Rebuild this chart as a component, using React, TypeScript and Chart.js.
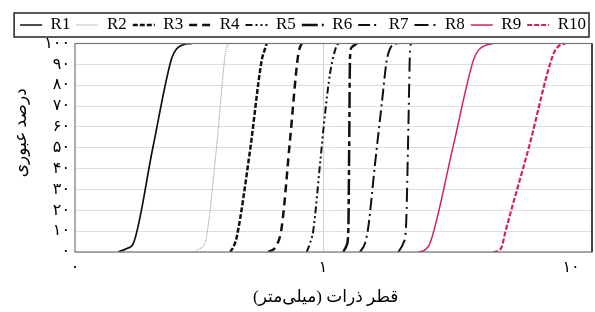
import { useEffect, useRef } from 'react';
import { Chart, registerables } from 'chart.js';

Chart.register(...registerables);

// ---- data (diameter in mm, percent passing) ----
const seriesNames = ['R1', 'R2', 'R3', 'R4', 'R5', 'R6', 'R7', 'R8', 'R9', 'R10'];

const r1Diameter = [0.149, 0.162, 0.172, 0.206, 0.245, 0.257, 0.273, 0.296];
const r1Passing = [0, 1.7, 4.2, 50, 92.7, 97.5, 99.4, 100];

const r2Diameter = [0.305, 0.319, 0.334, 0.372, 0.403, 0.409, 0.415];
const r2Passing = [0, 1.7, 4.2, 50, 94.3, 98, 100];

const r3Diameter = [0.422, 0.435, 0.449, 0.508, 0.566, 0.584, 0.593];
const r3Passing = [0, 2.4, 7.2, 48.8, 91.9, 97.5, 100];

const r4Diameter = [0.602, 0.651, 0.682, 0.736, 0.795, 0.813, 0.821];
const r4Passing = [0, 3.3, 12.1, 53.6, 95, 99, 100];

const r5Diameter = [0.86, 0.886, 0.914, 0.973, 1.019, 1.067, 1.118, 1.15];
const r5Passing = [0, 4.2, 10.5, 42.4, 66.3, 85.5, 96.7, 100];

const r6Diameter = [1.207, 1.246, 1.265, 1.275, 1.285, 1.305, 1.371];
const r6Passing = [0, 3.3, 10.5, 50, 93.4, 98.2, 100];

const r7Diameter = [1.41, 1.477, 1.523, 1.621, 1.725, 1.807, 1.863, 1.982];
const r7Passing = [0, 4.2, 12.1, 42.3, 71, 91.9, 97.5, 100];

const r8Diameter = [2.012, 2.107, 2.161, 2.208, 2.243, 2.264];
const r8Passing = [0, 4.2, 12.1, 58.4, 96.7, 100];

const r9Diameter = [2.423, 2.578, 2.701, 3.344, 4.037, 4.229, 4.5, 4.861];
const r9Passing = [0, 1, 4.2, 50.4, 91.9, 96.7, 99, 100];

const r10Diameter = [4.861, 5.093, 5.256, 5.42, 6.77, 8.462, 8.864, 9.458];
const r10Passing = [0, 0.6, 2.5, 9, 50.4, 94.5, 98.5, 100];

const xTickValues = [0.1, 1, 10];
const xTickLabels = ['۰', '۱', '۱۰'];
const yTickValues = [0, 10, 20, 30, 40, 50, 60, 70, 80, 90, 100];
const yTickLabels = ['۰', '۱۰', '۲۰', '۳۰', '۴۰', '۵۰', '۶۰', '۷۰', '۸۰', '۹۰', '۱۰۰'];

const xTitle = 'قطر ذرات (میلی\u200cمتر)';
const yTitle = 'درصد عبوری';

// ---- styles ----
const RED = '#d1245a';
const seriesStyles = [
  { color: '#111', width: 1.7, dash: [] as number[] },
  { color: '#888', width: 1, dash: [1, 1] },
  { color: '#111', width: 2.5, dash: [5, 2] },
  { color: '#111', width: 2.5, dash: [8, 5] },
  { color: '#111', width: 2, dash: [7, 3, 2, 3, 2, 3] },
  { color: '#111', width: 2.5, dash: [16, 4, 5, 4] },
  { color: '#111', width: 2, dash: [12, 4, 2, 4] },
  { color: '#111', width: 2, dash: [14, 5, 2, 5] },
  { color: RED, width: 1.5, dash: [] as number[] },
  { color: RED, width: 2.2, dash: [5, 2] },
];

const seriesData = [
  [r1Diameter, r1Passing],
  [r2Diameter, r2Passing],
  [r3Diameter, r3Passing],
  [r4Diameter, r4Passing],
  [r5Diameter, r5Passing],
  [r6Diameter, r6Passing],
  [r7Diameter, r7Passing],
  [r8Diameter, r8Passing],
  [r9Diameter, r9Passing],
  [r10Diameter, r10Passing],
];

const SERIF = "'Liberation Serif', 'DejaVu Serif', serif";
const TICK_FONT = "'Liberation Serif', 'DejaVu Sans', serif";

const framePlugin = {
  id: 'frameAndLegendBox',
  afterDraw(chart: any) {
    const { ctx, chartArea } = chart;
    ctx.save();
    // plot frame
    ctx.strokeStyle = '#777';
    ctx.lineWidth = 1.2;
    ctx.strokeRect(chartArea.left, chartArea.top, chartArea.right - chartArea.left, chartArea.bottom - chartArea.top);
    ctx.strokeStyle = '#444';
    ctx.lineWidth = 2;
    ctx.beginPath();
    ctx.moveTo(chartArea.right, chartArea.top);
    ctx.lineTo(chartArea.right, chartArea.bottom);
    ctx.stroke();
    // legend box
    const lg = chart.legend;
    if (lg && lg.legendHitBoxes && lg.legendHitBoxes.length) {
      const hbs = lg.legendHitBoxes;
      const first = hbs[0];
      const last = hbs[hbs.length - 1];
      const cy = first.top + first.height / 2;
      const x0 = first.left - 6;
      const x1 = last.left + last.width + 3;
      ctx.strokeStyle = '#222';
      ctx.lineWidth = 1.5;
      ctx.strokeRect(x0, cy - 12, x1 - x0, 24);
    }
    ctx.restore();
  },
};

const titlePlugin = {
  id: 'axisTitles',
  afterDraw(chart: any) {
    const { ctx, chartArea } = chart;
    ctx.save();
    ctx.fillStyle = '#000';
    ctx.font = `17px ${TICK_FONT}`;
    (ctx as any).direction = 'rtl';
    ctx.textAlign = 'center';
    ctx.textBaseline = 'middle';
    // x title
    ctx.fillText(xTitle, chartArea.left + (chartArea.right - chartArea.left) * 0.485, chartArea.bottom + 46);
    // y title
    ctx.translate(chartArea.left - 53, (chartArea.top + chartArea.bottom) / 2 - 15);
    ctx.rotate(-Math.PI / 2);
    ctx.fillText(yTitle, 0, 0);
    ctx.restore();
  },
};

export default function App() {
  const canvasRef = useRef<HTMLCanvasElement | null>(null);

  useEffect(() => {
    if (!canvasRef.current) return;
    const datasets = seriesData.map(([xs, ys], i) => ({
      label: seriesNames[i],
      data: xs.map((d, j) => ({ x: d, y: ys[j] })),
      borderColor: seriesStyles[i].color,
      backgroundColor: seriesStyles[i].color,
      borderWidth: seriesStyles[i].width,
      borderDash: seriesStyles[i].dash,
      pointRadius: 0,
      pointHoverRadius: 0,
      fill: false,
      cubicInterpolationMode: 'monotone' as const,
    }));

    const chart = new Chart(canvasRef.current, {
      type: 'line',
      data: { datasets },
      plugins: [framePlugin, titlePlugin],
      options: {
        animation: false,
        responsive: true,
        maintainAspectRatio: false,
        layout: { padding: { top: 10.5, left: 0, right: 3, bottom: 0 } },
        plugins: {
          tooltip: { enabled: false },
          legend: {
            display: true,
            position: 'top',
            align: 'end',
            labels: {
              usePointStyle: true,
              pointStyle: 'line',
              pointStyleWidth: 22,
              boxWidth: 22,
              padding: 6,
              color: '#000',
              font: { family: SERIF, size: 17 },
              generateLabels: (ch: any) =>
                ch.data.datasets.map((ds: any, i: number) => ({
                  text: ds.label,
                  datasetIndex: i,
                  hidden: false,
                  fillStyle: ds.borderColor,
                  strokeStyle: ds.borderColor,
                  lineWidth: ds.borderWidth,
                  lineDash: ds.borderDash,
                  lineCap: 'butt',
                  pointStyle: 'line',
                  fontColor: '#000',
                })),
            },
          },
        },
        scales: {
          x: {
            type: 'logarithmic',
            min: 0.1,
            max: 12.15,
            afterBuildTicks: (scale: any) => {
              scale.ticks = xTickValues.map((v) => ({ value: v }));
            },
            afterFit: (scale: any) => {
              scale.height = 60;
            },
            ticks: {
              autoSkip: false,
              maxRotation: 0,
              padding: 6,
              color: '#000',
              font: { family: TICK_FONT, size: 16 },
              callback: (v: any) => {
                const i = xTickValues.findIndex((t) => Math.abs(t - Number(v)) < 1e-9);
                return i >= 0 ? xTickLabels[i] : '';
              },
            },
            grid: {
              drawTicks: false,
              color: (c: any) => (c.tick && Math.abs(c.tick.value - 1) < 1e-9 ? '#cfcfcf' : 'rgba(0,0,0,0)'),
            },
            border: { display: false },
          },
          y: {
            type: 'linear',
            min: 0,
            max: 100,
            afterBuildTicks: (scale: any) => {
              scale.ticks = yTickValues.map((v) => ({ value: v }));
            },
            afterFit: (scale: any) => {
              scale.width = 75;
            },
            ticks: {
              autoSkip: false,
              padding: 5,
              color: '#000',
              font: { family: TICK_FONT, size: 16 },
              callback: (v: any) => {
                const i = yTickValues.indexOf(Number(v));
                return i >= 0 ? yTickLabels[i] : '';
              },
            },
            grid: { drawTicks: false, color: '#dedede' },
            border: { display: false },
          },
        },
      },
    });
    return () => chart.destroy();
  }, []);

  return (
    <div style={{ position: 'fixed', left: 0, top: 0, width: 595, height: 312, background: '#fff' }}>
      <canvas ref={canvasRef} />
    </div>
  );
}
